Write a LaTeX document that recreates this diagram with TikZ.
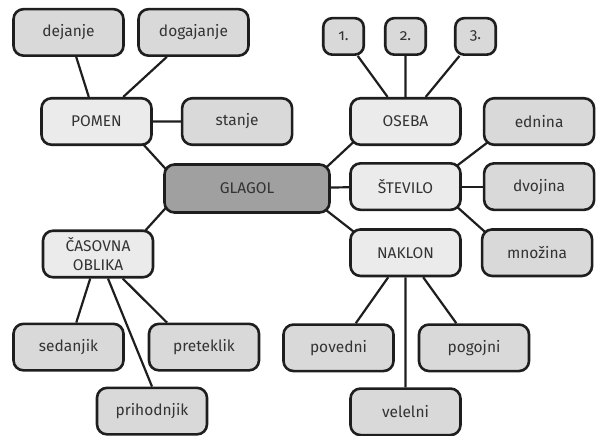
\documentclass[tikz,border=0pt]{standalone}
\usepackage{fontspec}
\setmainfont[Numbers=OldStyle]{Fira Sans}
\usepackage{tikz}
\usetikzlibrary{positioning,backgrounds}
\definecolor{rootgray}{HTML}{A0A0A0}
\definecolor{hubgray}{HTML}{EBEBEB}
\definecolor{leafgray}{HTML}{D9D9D9}
\definecolor{inkgray}{HTML}{1E1E1E}
\definecolor{textgray}{HTML}{333333}

\begin{document}
\begin{tikzpicture}[x=1pt, y=-1pt, node distance=20pt,
	box/.style = {draw=inkgray, line width=2.6pt, rounded corners=10pt, text=textgray, align=center,
		font=\fontsize{15.5}{19.5}\selectfont, inner sep=2pt, minimum width=110pt, minimum height=46.5pt},
	root/.style = {box, fill=rootgray, minimum width=165pt, minimum height=48pt},
	hub/.style = {box, fill=hubgray},
	leaf/.style = {box, fill=leafgray},
	num/.style = {box, fill=leafgray, rounded corners=9pt, minimum width=40.5pt, minimum height=36.5pt},
	link/.style = {draw=inkgray, line width=2.2pt},
	spoke/.style = {link, shorten <=-6pt, shorten >=-6pt}]
\useasboundingbox (0,0) rectangle (602,436);

\node[root]										(glagol)	 at (247,188.5) {GLAGOL};
\node[hub]										(pomen)		 at (96.5,121.5) {POMEN};
\node[leaf, above=40pt of pomen, xshift=-28pt]	(dejanje)	 {dejanje};
\node[leaf, above=40pt of pomen, xshift=97pt]	(dogajanje)	 {dogajanje};
\node[leaf, right=28pt of pomen]				(stanje)	 {stanje};
\node[hub]										(casovna)	 at (98,254) {ČASOVNA\\OBLIKA};
\node[leaf, below=44pt of casovna, xshift=-29.5pt] (sedanjik) {sedanjik};
\node[leaf, below=44pt of casovna, xshift=106pt] (preteklik) {preteklik};
\node[leaf, below=108pt of casovna, xshift=54pt] (prihodnjik) {prihodnjik};
\node[hub]										(oseba)		 at (405.5,121.5) {OSEBA};
\node[num, above=41pt of oseba, xshift=-62pt]	(n1)		 {1.};
\node[num, above=41pt of oseba]					(n2)		 {2.};
\node[num, above=41pt of oseba, xshift=70pt]	(n3)		 {3.};
\node[leaf, right=21pt of oseba]				(ednina)	 {ednina};
\node[hub, below=16pt of oseba]					(stevilo)	 {ŠTEVILO};
\node[leaf, right=21pt of stevilo]				(dvojina)	 {dvojina};
\node[hub, below=17pt of stevilo]				(naklon)	 {NAKLON};
\node[leaf, right=19pt of naklon]				(mnozina)	 {množina};
\node[leaf, below=46pt of naklon, xshift=-67pt]	(povedni)	 {povedni};
\node[leaf, below=46pt of naklon, xshift=68.5pt] (pogojni)	 {pogojni};
\node[leaf, below=110pt of naklon]				(velelni)	 {velelni};

\begin{scope}[on background layer]
	% hubs to the root
	\draw[spoke] ([xshift=-8pt]pomen.south east) -- ([yshift=-3pt]glagol.north west);
	\draw[spoke] ([xshift=-8pt]casovna.north east) -- ([yshift=3pt]glagol.south west);
	\draw[spoke] (glagol.north east) -- (oseba.south west);
	\draw[link] (glagol) -- (stevilo);
	\draw[spoke] (glagol.south east) -- (naklon.north west);
	% leaves
	\draw[link] (dejanje) -- (pomen) (dogajanje) -- (pomen) (pomen) -- (stanje);
	\draw[link] (casovna) -- (sedanjik) (casovna) -- ([xshift=-37pt]preteklik.north) (casovna) -- (prihodnjik.north);
	\draw[link] (n1) -- (oseba) (n2) -- (oseba) (n3) -- (oseba);
	\draw[spoke] (stevilo.north east) -- (ednina.south west);
	\draw[link] (stevilo) -- (dvojina);
	\draw[spoke] (stevilo.south east) -- (mnozina.north west);
	\draw[link] (naklon) -- (povedni) (naklon) -- (velelni) (naklon) -- (pogojni);
\end{scope}

\end{tikzpicture}
\end{document}
